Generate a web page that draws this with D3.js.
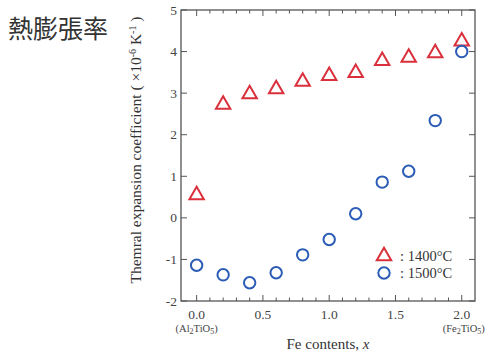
<!DOCTYPE html>
<html>
<head>
<meta charset="utf-8">
<script src="https://cdn.jsdelivr.net/npm/d3@7"></script>
<style>
body { margin: 0; background: #fff; }
svg { display: block; }
</style>
</head>
<body>
<svg></svg>
<script>
const width = 489;
const height = 354;

// Fe contents
const feContents = [0.0, 0.2, 0.4, 0.6, 0.8, 1.0, 1.2, 1.4, 1.6, 1.8, 2.0];
// thermal expansion coefficient (x10^-6 /K)
const tec1400 = [0.57, 2.75, 3.0, 3.12, 3.3, 3.44, 3.51, 3.8, 3.88, 3.99, 4.27];
const tec1500 = [-1.14, -1.37, -1.56, -1.32, -0.89, -0.52, 0.1, 0.86, 1.12, 2.34, 4.0];
const xTickLabels = ['0.0', '0.5', '1.0', '1.5', '2.0'];
const yTickValues = [-2, -1, 0, 1, 2, 3, 4, 5];

const margin = { left: 181, right: 14, top: 10, bottom: 53 };
const axisColor = '#555';
const red = '#d9303c';
const blue = '#2b5cb6';

const svg = d3.select('svg')
    .attr('width', width)
    .attr('height', height)
    .style('font-family', '"Liberation Serif", "Times New Roman", serif');

const x = d3.scaleLinear()
    .domain([-0.118, 2.1])
    .range([margin.left, width - margin.right]);
const y = d3.scaleLinear()
    .domain([-2, 5])
    .range([height - margin.bottom, margin.top]);

// title
svg.append('text')
    .attr('x', 8)
    .attr('y', 38)
    .style('font-family', '"Noto Sans CJK JP", sans-serif')
    .style('font-size', '25px')
    .attr('fill', '#333')
    .text('熱膨張率');

// frame
svg.append('rect')
    .attr('x', x.range()[0])
    .attr('y', y.range()[1])
    .attr('width', x.range()[1] - x.range()[0])
    .attr('height', y.range()[0] - y.range()[1])
    .attr('fill', 'none')
    .attr('stroke', axisColor)
    .attr('stroke-width', 1.3);

// x ticks top & bottom (minor every 0.1)
const xTicks = d3.range(0, 21).map(function(i) { return i / 10; });
const tickG = svg.append('g').attr('stroke', axisColor).attr('stroke-width', 1);
xTicks.forEach(function(t) {
    const major = Math.round(t * 10) % 5 === 0;
    const len = major ? 6 : 3.5;
    tickG.append('line')
        .attr('x1', x(t)).attr('x2', x(t))
        .attr('y1', y(-2)).attr('y2', y(-2) - len);
    tickG.append('line')
        .attr('x1', x(t)).attr('x2', x(t))
        .attr('y1', y(5)).attr('y2', y(5) + len);
});
yTickValues.forEach(function(t) {
    tickG.append('line')
        .attr('x1', x.range()[0]).attr('x2', x.range()[0] + 6)
        .attr('y1', y(t)).attr('y2', y(t));
    tickG.append('line')
        .attr('x1', x.range()[1]).attr('x2', x.range()[1] - 6)
        .attr('y1', y(t)).attr('y2', y(t));
});

// x tick labels
svg.append('g').selectAll('text')
    .data(xTickLabels)
    .enter().append('text')
    .attr('x', function(d) { return x(+d); })
    .attr('y', y(-2) + 18)
    .attr('text-anchor', 'middle')
    .attr('fill', '#444')
    .style('font-size', '13.5px')
    .text(function(d) { return d; });

// y tick labels
svg.append('g').selectAll('text')
    .data(yTickValues)
    .enter().append('text')
    .attr('x', x.range()[0] - 4)
    .attr('y', function(d) { return y(d) + 4.5; })
    .attr('text-anchor', 'end')
    .attr('fill', '#444')
    .style('font-size', '13.5px')
    .text(function(d) { return d; });

// compound labels
function formula(px, anchor, parts) {
    const t = svg.append('text')
        .attr('x', px)
        .attr('y', y(-2) + 31)
        .attr('text-anchor', anchor)
        .attr('fill', '#444')
        .style('font-size', '10.5px');
    parts.forEach(function(p) {
        const s = t.append('tspan').text(p[0]);
        if (p[1]) s.attr('dy', 2).style('font-size', '8px');
        else if (p[2]) s.attr('dy', -2);
    });
}
formula(x(0), 'middle', [['(Al'], ['2', true], ['TiO', false, true], ['5', true], [')', false, true]]);
formula(x(2.0) + 2, 'middle', [['(Fe'], ['2', true], ['TiO', false, true], ['5', true], [')', false, true]]);

// x axis title
const xt = svg.append('text')
    .attr('x', 328)
    .attr('y', 349)
    .attr('text-anchor', 'middle')
    .attr('fill', '#333')
    .style('font-size', '15px');
xt.append('tspan').text('Fe contents, ');
xt.append('tspan').style('font-style', 'italic').text('x');

// y axis title
const yt = svg.append('text')
    .attr('transform', 'translate(141,150)rotate(-90)')
    .attr('text-anchor', 'middle')
    .attr('fill', '#333')
    .style('font-size', '15.5px');
yt.append('tspan').text('Themral expansion coefficient ( \u00d710');
yt.append('tspan').attr('baseline-shift', 'super').style('font-size', '10px').text('-6');
yt.append('tspan').text(' K');
yt.append('tspan').attr('baseline-shift', 'super').style('font-size', '10px').text('-1');
yt.append('tspan').text(' )');

// markers
const tri = d3.symbol().type(d3.symbolTriangle).size(90);

svg.append('g').selectAll('path')
    .data(feContents)
    .enter().append('path')
    .attr('d', tri)
    .attr('transform', function(d, i) { return `translate(${x(d)},${y(tec1400[i]) + 1})`; })
    .attr('fill', 'none')
    .attr('stroke', red)
    .attr('stroke-width', 2);

svg.append('g').selectAll('circle')
    .data(feContents)
    .enter().append('circle')
    .attr('cx', function(d) { return x(d); })
    .attr('cy', function(d, i) { return y(tec1500[i]); })
    .attr('r', 5.7)
    .attr('fill', 'none')
    .attr('stroke', blue)
    .attr('stroke-width', 2);

// legend
const legend = svg.append('g');
legend.append('path')
    .attr('d', tri)
    .attr('transform', 'translate(384,256)')
    .attr('fill', 'none')
    .attr('stroke', red)
    .attr('stroke-width', 2);
legend.append('circle')
    .attr('cx', 384).attr('cy', 273).attr('r', 5.7)
    .attr('fill', 'none')
    .attr('stroke', blue)
    .attr('stroke-width', 2);
legend.append('text')
    .attr('x', 400).attr('y', 261)
    .attr('fill', '#333')
    .style('font-size', '14.5px')
    .text(': 1400\u00b0C');
legend.append('text')
    .attr('x', 400).attr('y', 278)
    .attr('fill', '#333')
    .style('font-size', '14.5px')
    .text(': 1500\u00b0C');
</script>
</body>
</html>
